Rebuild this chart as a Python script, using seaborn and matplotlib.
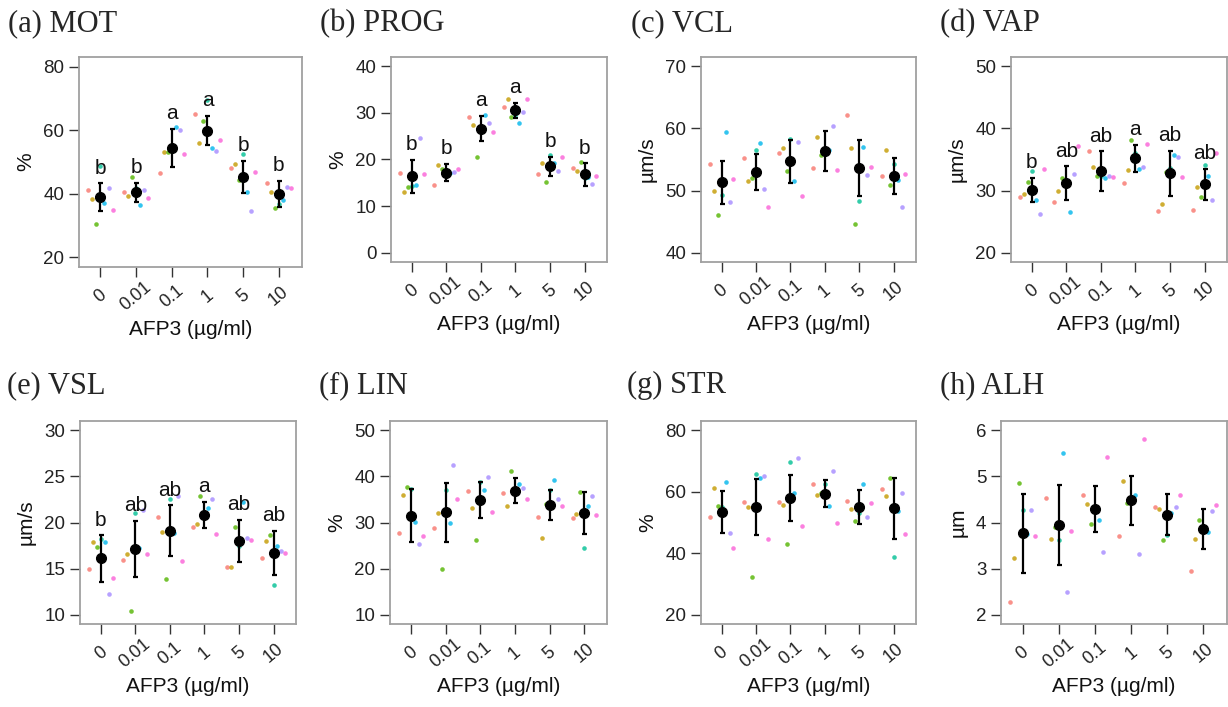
import seaborn as sns
import matplotlib.pyplot as plt
import pandas as pd

# doses on the x axis and the 7 replicates (ggplot hue colours)
doses = ['0', '0.01', '0.1', '1', '5', '10']
reps = ['r1', 'r2', 'r3', 'r4', 'r5', 'r6', 'r7']
rep_colors = ['#F8766D', '#C49A00', '#53B400', '#00C094', '#00B6EB', '#A58AFF', '#FB61D7']

# one row per dose, one value per replicate
mot_pts = [[41.1, 38.3, 30.5, 48.6, 37.0, 41.9, 34.9],
           [40.7, 39.3, 45.3, 41.8, 36.6, 41.1, 38.8],
           [46.6, 53.1, 53.2, 55.1, 60.9, 60.0, 52.6],
           [65.0, 56.1, 62.8, 69.5, 54.5, 53.5, 57.0],
           [48.0, 49.3, 44.5, 52.5, 40.5, 34.6, 46.8],
           [43.3, 40.5, 35.4, 36.8, 38.2, 42.2, 41.9]]
mot_mean = [38.9, 40.5, 54.5, 59.9, 45.2, 39.9]
mot_err = [4.35, 3.05, 6.0, 4.7, 5.05, 4.1]
mot_letters = ['b', 'b', 'a', 'a', 'b', 'b']

prog_pts = [[17.2, 13.1, 14.1, 14.4, 14.5, 24.6, 16.9],
            [14.5, 18.9, 17.9, 17.4, 17.2, 17.4, 17.9],
            [29.2, 27.4, 20.6, 25.8, 29.6, 27.8, 25.8],
            [31.3, 33.0, 29.2, 29.5, 27.9, 30.2, 33.0],
            [16.8, 19.2, 15.1, 21.0, 19.3, 17.5, 20.5],
            [18.1, 17.6, 19.5, 16.0, 16.2, 14.7, 16.4]]
prog_mean = [16.4, 17.2, 26.6, 30.6, 18.5, 16.8]
prog_err = [3.5, 1.8, 2.7, 1.6, 2.0, 2.4]
prog_letters = ['b', 'b', 'a', 'a', 'b', 'b']

vcl_pts = [[54.2, 50.0, 46.0, 49.3, 59.4, 48.2, 51.8],
           [55.3, 51.6, 52.1, 56.6, 57.7, 50.2, 47.3],
           [56.0, 56.9, 53.2, 58.3, 51.5, 57.8, 49.1],
           [53.6, 58.7, 55.7, 56.5, 56.5, 60.4, 53.3],
           [62.2, 56.8, 44.6, 48.3, 57.0, 52.5, 53.8],
           [52.4, 56.6, 50.9, 54.3, 51.7, 47.3, 52.7]]
vcl_mean = [51.3, 53.0, 54.7, 56.4, 53.6, 52.3]
vcl_err = [3.45, 2.9, 3.45, 3.2, 4.5, 2.9]
vcl_letters = None

vap_pts = [[29.0, 29.4, 31.3, 33.2, 28.4, 26.3, 33.4],
           [28.2, 30.0, 32.0, 31.5, 26.6, 32.7, 37.1],
           [36.3, 33.8, 32.3, 32.4, 32.0, 32.4, 32.2],
           [31.2, 33.3, 38.1, 36.0, 33.5, 33.8, 37.5],
           [26.7, 27.9, 33.0, 33.6, 35.7, 35.4, 32.2],
           [26.8, 30.6, 28.9, 34.1, 32.4, 28.4, 36.1]]
vap_mean = [30.1, 31.2, 33.1, 35.2, 32.8, 31.0]
vap_err = [2.0, 2.7, 3.2, 2.2, 3.6, 2.45]
vap_letters = ['b', 'ab', 'ab', 'a', 'ab', 'ab']

vsl_pts = [[15.0, 17.9, 17.3, 18.2, 17.9, 12.2, 14.0],
           [15.9, 16.6, 10.4, 21.0, 17.2, 21.4, 16.6],
           [20.6, 19.0, 13.9, 22.6, 18.9, 22.9, 15.8],
           [19.5, 19.8, 22.9, 20.5, 21.6, 22.6, 18.7],
           [15.2, 15.2, 19.5, 17.5, 22.2, 18.3, 18.1],
           [16.2, 18.0, 18.6, 13.2, 17.4, 16.9, 16.7]]
vsl_mean = [16.1, 17.1, 19.1, 20.8, 18.0, 16.7]
vsl_err = [2.5, 3.05, 2.75, 1.4, 2.25, 2.4]
vsl_letters = ['b', 'ab', 'ab', 'a', 'ab', 'ab']

lin_pts = [[27.8, 36.0, 37.6, 37.2, 30.2, 25.4, 27.0],
           [28.8, 32.0, 19.9, 37.1, 29.8, 42.4, 35.1],
           [36.8, 33.2, 26.1, 38.8, 37.1, 39.8, 32.2],
           [36.4, 33.6, 41.1, 37.0, 38.3, 37.4, 35.1],
           [31.3, 26.7, 34.0, 37.0, 39.2, 35.0, 33.6],
           [31.0, 31.8, 36.6, 24.4, 33.6, 35.8, 31.6]]
lin_mean = [31.5, 32.2, 34.9, 36.9, 33.8, 32.1]
lin_err = [5.75, 6.35, 3.9, 2.65, 3.2, 4.6]
lin_letters = None

str_pts = [[51.8, 61.2, 55.3, 55.0, 63.2, 46.5, 41.7],
           [56.6, 55.1, 32.4, 65.8, 64.6, 65.2, 44.7],
           [56.8, 55.8, 43.0, 69.8, 59.7, 71.0, 49.0],
           [62.4, 59.1, 59.7, 62.4, 55.4, 66.7, 49.9],
           [57.0, 54.4, 50.6, 53.0, 62.5, 51.7, 56.2],
           [60.8, 58.7, 64.4, 38.9, 53.6, 59.6, 46.1]]
str_mean = [53.5, 54.9, 57.9, 59.4, 55.1, 54.6]
str_err = [6.85, 9.1, 7.5, 4.45, 5.5, 9.9]
str_letters = None

alh_pts = [[2.27, 3.22, 4.86, 4.27, 3.74, 4.28, 3.71],
           [4.54, 3.65, 3.91, 3.63, 5.50, 2.50, 3.81],
           [4.60, 4.41, 3.97, 4.30, 4.05, 3.35, 5.43],
           [3.71, 4.90, 4.43, 4.45, 4.60, 3.31, 5.81],
           [4.34, 4.29, 3.62, 3.73, 4.20, 4.34, 4.60],
           [2.95, 3.64, 4.06, 3.85, 3.79, 4.25, 4.37]]
alh_mean = [3.77, 3.94, 4.30, 4.48, 4.17, 3.85]
alh_err = [0.855, 0.865, 0.5, 0.535, 0.45, 0.435]
alh_letters = None

panels = [
    ('(a) MOT', '%', mot_pts, mot_mean, mot_err, mot_letters, [20, 40, 60, 80]),
    ('(b) PROG', '%', prog_pts, prog_mean, prog_err, prog_letters, [0, 10, 20, 30, 40]),
    ('(c) VCL', 'µm/s', vcl_pts, vcl_mean, vcl_err, vcl_letters, [40, 50, 60, 70]),
    ('(d) VAP', 'µm/s', vap_pts, vap_mean, vap_err, vap_letters, [20, 30, 40, 50]),
    ('(e) VSL', 'µm/s', vsl_pts, vsl_mean, vsl_err, vsl_letters, [10, 15, 20, 25, 30]),
    ('(f) LIN', '%', lin_pts, lin_mean, lin_err, lin_letters, [10, 20, 30, 40, 50]),
    ('(g) STR', '%', str_pts, str_mean, str_err, str_letters, [20, 40, 60, 80]),
    ('(h) ALH', 'µm', alh_pts, alh_mean, alh_err, alh_letters, [2, 3, 4, 5, 6]),
]

# axes boxes in pixels: left, top, right, bottom ; title x, baseline
W, H = 1228, 707
boxes = [(79, 57, 302, 267), (391, 57, 607, 262), (701, 57, 916, 262), (1011, 57, 1227, 262),
         (80, 421, 296, 624), (390, 421, 607, 624), (701, 421, 916, 624), (1001, 421, 1227, 624)]
title_pos = [(8, 31), (320, 31), (631, 31), (940, 31),
             (7, 393), (319, 393), (627, 393), (940, 393)]

sns.set_theme(style='ticks')
plt.rcParams['font.family'] = ['Liberation Sans', 'DejaVu Sans']

fig = plt.figure(figsize=(W / 100, H / 100), dpi=100)

for k, (title, ylab, pts, mean, err, letters, yticks) in enumerate(panels):
    l, t, r, b = boxes[k]
    ax = fig.add_axes([l / W, 1 - b / H, (r - l) / W, (b - t) / H])

    df = pd.DataFrame([(d, reps[j], v) for d, row in zip(doses, pts) for j, v in enumerate(row)],
                      columns=['dose', 'rep', 'value'])
    sns.stripplot(data=df, x='dose', y='value', hue='rep', order=doses, hue_order=reps,
                  palette=rep_colors, dodge=True, jitter=False, size=3.3, alpha=0.8,
                  linewidth=0, legend=False, ax=ax, zorder=2)

    ax.errorbar(range(len(doses)), mean, yerr=err, fmt='o', color='black', ms=7,
                elinewidth=1.6, capsize=1.8, capthick=1.6, zorder=4)

    if letters:
        for i, lt in enumerate(letters):
            ax.annotate(lt, (i, mean[i] + err[i]), xytext=(0, 7), textcoords='offset points',
                        ha='center', va='baseline', fontsize=15, color='#111111', zorder=5)

    span = yticks[-1] - yticks[0]
    ax.set_ylim(yticks[0] - 0.05 * span, yticks[-1] + 0.05 * span)
    ax.set_yticks(yticks)
    ax.set_xlim(-0.6, 5.65)
    ax.set_xlabel('AFP3 (µg/ml)', fontsize=15, color='#111111', labelpad=4)
    ax.set_ylabel(ylab, fontsize=15, color='#111111', labelpad=6)
    ax.tick_params(axis='both', direction='out', length=7, width=1, color='#333333',
                   labelsize=13.5, labelcolor='#222222')
    ax.tick_params(axis='x', labelsize=13, pad=14)
    plt.setp(ax.get_xticklabels(), rotation=40, ha='center', va='center')
    for s in ax.spines.values():
        s.set_visible(True)
        s.set_color('#a0a0a0')
        s.set_linewidth(1.3)

    tx, ty = title_pos[k]
    fig.text(tx / W, 1 - ty / H, title, fontsize=22, va='baseline', ha='left',
             family=['Liberation Serif', 'DejaVu Serif'])

fig.savefig('out.png', dpi=100)
